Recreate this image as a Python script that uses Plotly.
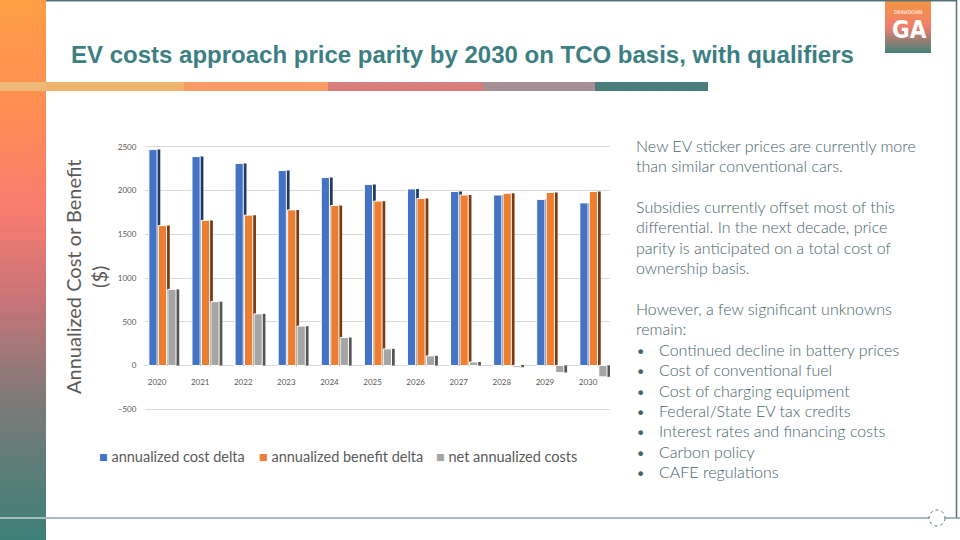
import plotly.graph_objects as go

years = [2020, 2021, 2022, 2023, 2024, 2025, 2026, 2027, 2028, 2029, 2030]
cost_delta = [2470, 2390, 2310, 2230, 2150, 2070, 2020, 1990, 1950, 1900, 1860]
benefit_delta = [1600, 1660, 1720, 1780, 1830, 1880, 1910, 1950, 1970, 1980, 1990]
net_costs = [870, 730, 590, 450, 320, 190, 110, 40, -20, -80, -130]
series_names = ["annualized cost delta", "annualized benefit delta", "net annualized costs"]
y_ticks = [-500, 0, 500, 1000, 1500, 2000, 2500]

title_text = "EV costs approach price parity by 2030 on TCO basis, with qualifiers"
para1 = ["New EV sticker prices are currently more", "than similar conventional cars."]
para2 = ["Subsidies currently offset most of this", "differential. In the next decade, price",
         "parity is anticipated on a total cost of", "ownership basis."]
para3 = ["However, a few significant unknowns", "remain:"]
bullets = ["Continued decline in battery prices", "Cost of conventional fuel",
           "Cost of charging equipment", "Federal/State EV tax credits",
           "Interest rates and financing costs", "Carbon policy", "CAFE regulations"]

W, H = 960, 540
L, R, T, B = 145, 350, 130, 122
PW, PH = W - L - R, H - T - B
YMIN, YMAX = -601, 2694


def px(x):
    return (x - L) / PW


def py(y):
    return (H - B - y) / PH


front_cols = ["#4472C4", "#ED7D31", "#A5A5A5"]
side_cols = ["#1F3864", "#7A3A10", "#555555"]
offsets = [-0.19, 0.03, 0.25]
bw = 0.19
shift = 0.075

fig = go.Figure()
for vals, name, fc, sc, off in zip([cost_delta, benefit_delta, net_costs], series_names,
                                   front_cols, side_cols, offsets):
    fig.add_trace(go.Bar(x=years, y=vals, width=bw, offset=off + shift,
                         marker=dict(color=sc, line=dict(width=0)),
                         showlegend=False, hoverinfo="skip"))
    fig.add_trace(go.Bar(x=years, y=vals, width=bw, offset=off, name=name, showlegend=False,
                         marker=dict(color=fc, line=dict(color="white", width=1))))

fig.update_layout(
    width=W, height=H, barmode="overlay",
    margin=dict(l=L, r=R, t=T, b=B),
    paper_bgcolor="white", plot_bgcolor="white",
    font=dict(family="Lato", color="#595959"),
    showlegend=False,
    xaxis=dict(range=[2019.72, 2030.51], tickvals=years, ticktext=[str(y) for y in years],
               anchor="free", position=(0 - YMIN) / (YMAX - YMIN), showline=False,
               showgrid=False, zeroline=False, ticks="outside", ticklen=9,
               tickcolor="rgba(0,0,0,0)", tickfont=dict(size=8, color="#595959")),
    yaxis=dict(range=[YMIN, YMAX], tickvals=y_ticks, showgrid=True, gridcolor="#D9D9D9",
               gridwidth=1, zeroline=True, zerolinecolor="#D9D9D9", zerolinewidth=1,
               tickfont=dict(size=8, color="#595959"), ticks="outside", ticklen=6,
               tickcolor="rgba(0,0,0,0)"),
)

shapes = []
# left gradient bar
stops = [(0, (255, 158, 68)), (120, (255, 140, 85)), (210, (248, 124, 112)),
         (300, (200, 116, 120)), (400, (125, 122, 120)), (540, (60, 128, 120))]


def col_at(y):
    for (y0, c0), (y1, c1) in zip(stops[:-1], stops[1:]):
        if y0 <= y <= y1:
            t = (y - y0) / (y1 - y0)
            return "rgb(%d,%d,%d)" % tuple(round(a + (b - a) * t) for a, b in zip(c0, c1))
    return "rgb(60,128,120)"


for i in range(0, 540, 6):
    shapes.append(dict(type="rect", xref="paper", yref="paper", x0=px(0), x1=px(46),
                       y0=py(i + 6.5), y1=py(i), line=dict(width=0),
                       fillcolor=col_at(i + 3), layer="below"))
# logo gradient
logo_stops = [(0, (247, 150, 63)), (27, (240, 125, 110)), (53, (70, 128, 122))]


def logo_col(y):
    for (y0, c0), (y1, c1) in zip(logo_stops[:-1], logo_stops[1:]):
        if y0 <= y <= y1:
            t = (y - y0) / (y1 - y0)
            return "rgb(%d,%d,%d)" % tuple(round(a + (b - a) * t) for a, b in zip(c0, c1))
    return "rgb(70,128,122)"


for i in range(0, 53, 3):
    shapes.append(dict(type="rect", xref="paper", yref="paper", x0=px(885), x1=px(931),
                       y0=py(min(i + 3.5, 53)), y1=py(i), line=dict(width=0),
                       fillcolor=logo_col(i + 1.5), layer="below"))
# colored strip
segs = [(0, 46, "#EDB878"), (46, 184, "#F0B46E"), (184, 328, "#F89B64"),
        (328, 483, "#D77D7C"), (483, 595, "#A78F96"), (595, 708, "#4A7E7C")]
for x0, x1, c in segs:
    shapes.append(dict(type="rect", xref="paper", yref="paper", x0=px(x0), x1=px(x1),
                       y0=py(91), y1=py(82), line=dict(width=0), fillcolor=c))
# borders
border = "#557479"
shapes.append(dict(type="line", xref="paper", yref="paper", x0=px(46), x1=px(957),
                   y0=py(0.7), y1=py(0.7), line=dict(color=border, width=1.5)))
shapes.append(dict(type="line", xref="paper", yref="paper", x0=px(956.5), x1=px(956.5),
                   y0=py(0), y1=py(518), line=dict(color=border, width=1.5)))
shapes.append(dict(type="line", xref="paper", yref="paper", x0=px(46), x1=px(960),
                   y0=py(518), y1=py(518), line=dict(color=border, width=1.2)))
shapes.append(dict(type="line", xref="paper", yref="paper", x0=px(0), x1=px(46),
                   y0=py(518), y1=py(518), line=dict(color="white", width=1.2)))
shapes.append(dict(type="circle", xref="paper", yref="paper", x0=px(929), x1=px(945),
                   y0=py(510), y1=py(526), fillcolor="white",
                   line=dict(color=border, width=1, dash="dot")))
fig.update_layout(shapes=shapes)

ann = []
ann.append(dict(text="<b>" + title_text + "</b>", x=px(69), y=py(55), xref="paper",
                yref="paper", xanchor="left", yanchor="middle", showarrow=False,
                font=dict(family="Liberation Sans", size=24, color="#3C7F83")))
ann.append(dict(text="Annualized Cost or Benefit<br>($)", x=px(86), y=py(277), xref="paper",
                yref="paper", xanchor="center", yanchor="middle", showarrow=False,
                textangle=-90, font=dict(family="Lato", size=20, color="#595959")))
ann.append(dict(text="DRAWDOWN", x=px(908), y=py(12), xref="paper", yref="paper",
                xanchor="center", yanchor="middle", showarrow=False,
                font=dict(family="DejaVu Sans Condensed", size=5, color="white")))
ann.append(dict(text="<b>GA</b>", x=px(909), y=py(30), xref="paper", yref="paper",
                xanchor="center", yanchor="middle", showarrow=False,
                font=dict(family="DejaVu Sans Condensed", size=24, color="white")))

# legend built as text
leg_x = [97, 257, 434]
for lx, name, fc in zip(leg_x, series_names, front_cols):
    ann.append(dict(text='<span style="color:%s">■</span> %s' % (fc, name), x=px(lx),
                    y=py(456), xref="paper", yref="paper", xanchor="left", yanchor="middle",
                    showarrow=False, font=dict(family="Lato", size=14.5, color="#595959")))

body_font = dict(family="Lato", size=16, color="#47636A", weight=300)
lines = [(145, para1[0]), (165, para1[1]), (206, para2[0]), (226, para2[1]), (247, para2[2]),
         (267, para2[3]), (308, para3[0]), (328, para3[1])]
for yy, t in lines:
    ann.append(dict(text=t, x=px(634), y=py(yy), xref="paper", yref="paper", xanchor="left",
                    yanchor="middle", showarrow=False, font=body_font))
by = [349, 369, 390, 410, 430, 451, 471]
for yy, t in zip(by, bullets):
    ann.append(dict(text="•", x=px(634), y=py(yy), xref="paper", yref="paper", xanchor="left",
                    yanchor="middle", showarrow=False, font=body_font))
    ann.append(dict(text=t, x=px(657), y=py(yy), xref="paper", yref="paper", xanchor="left",
                    yanchor="middle", showarrow=False, font=body_font))
fig.update_layout(annotations=ann)

fig.write_html("out.html", post_script="document.body.style.margin='0';",
               config={"displayModeBar": False})
